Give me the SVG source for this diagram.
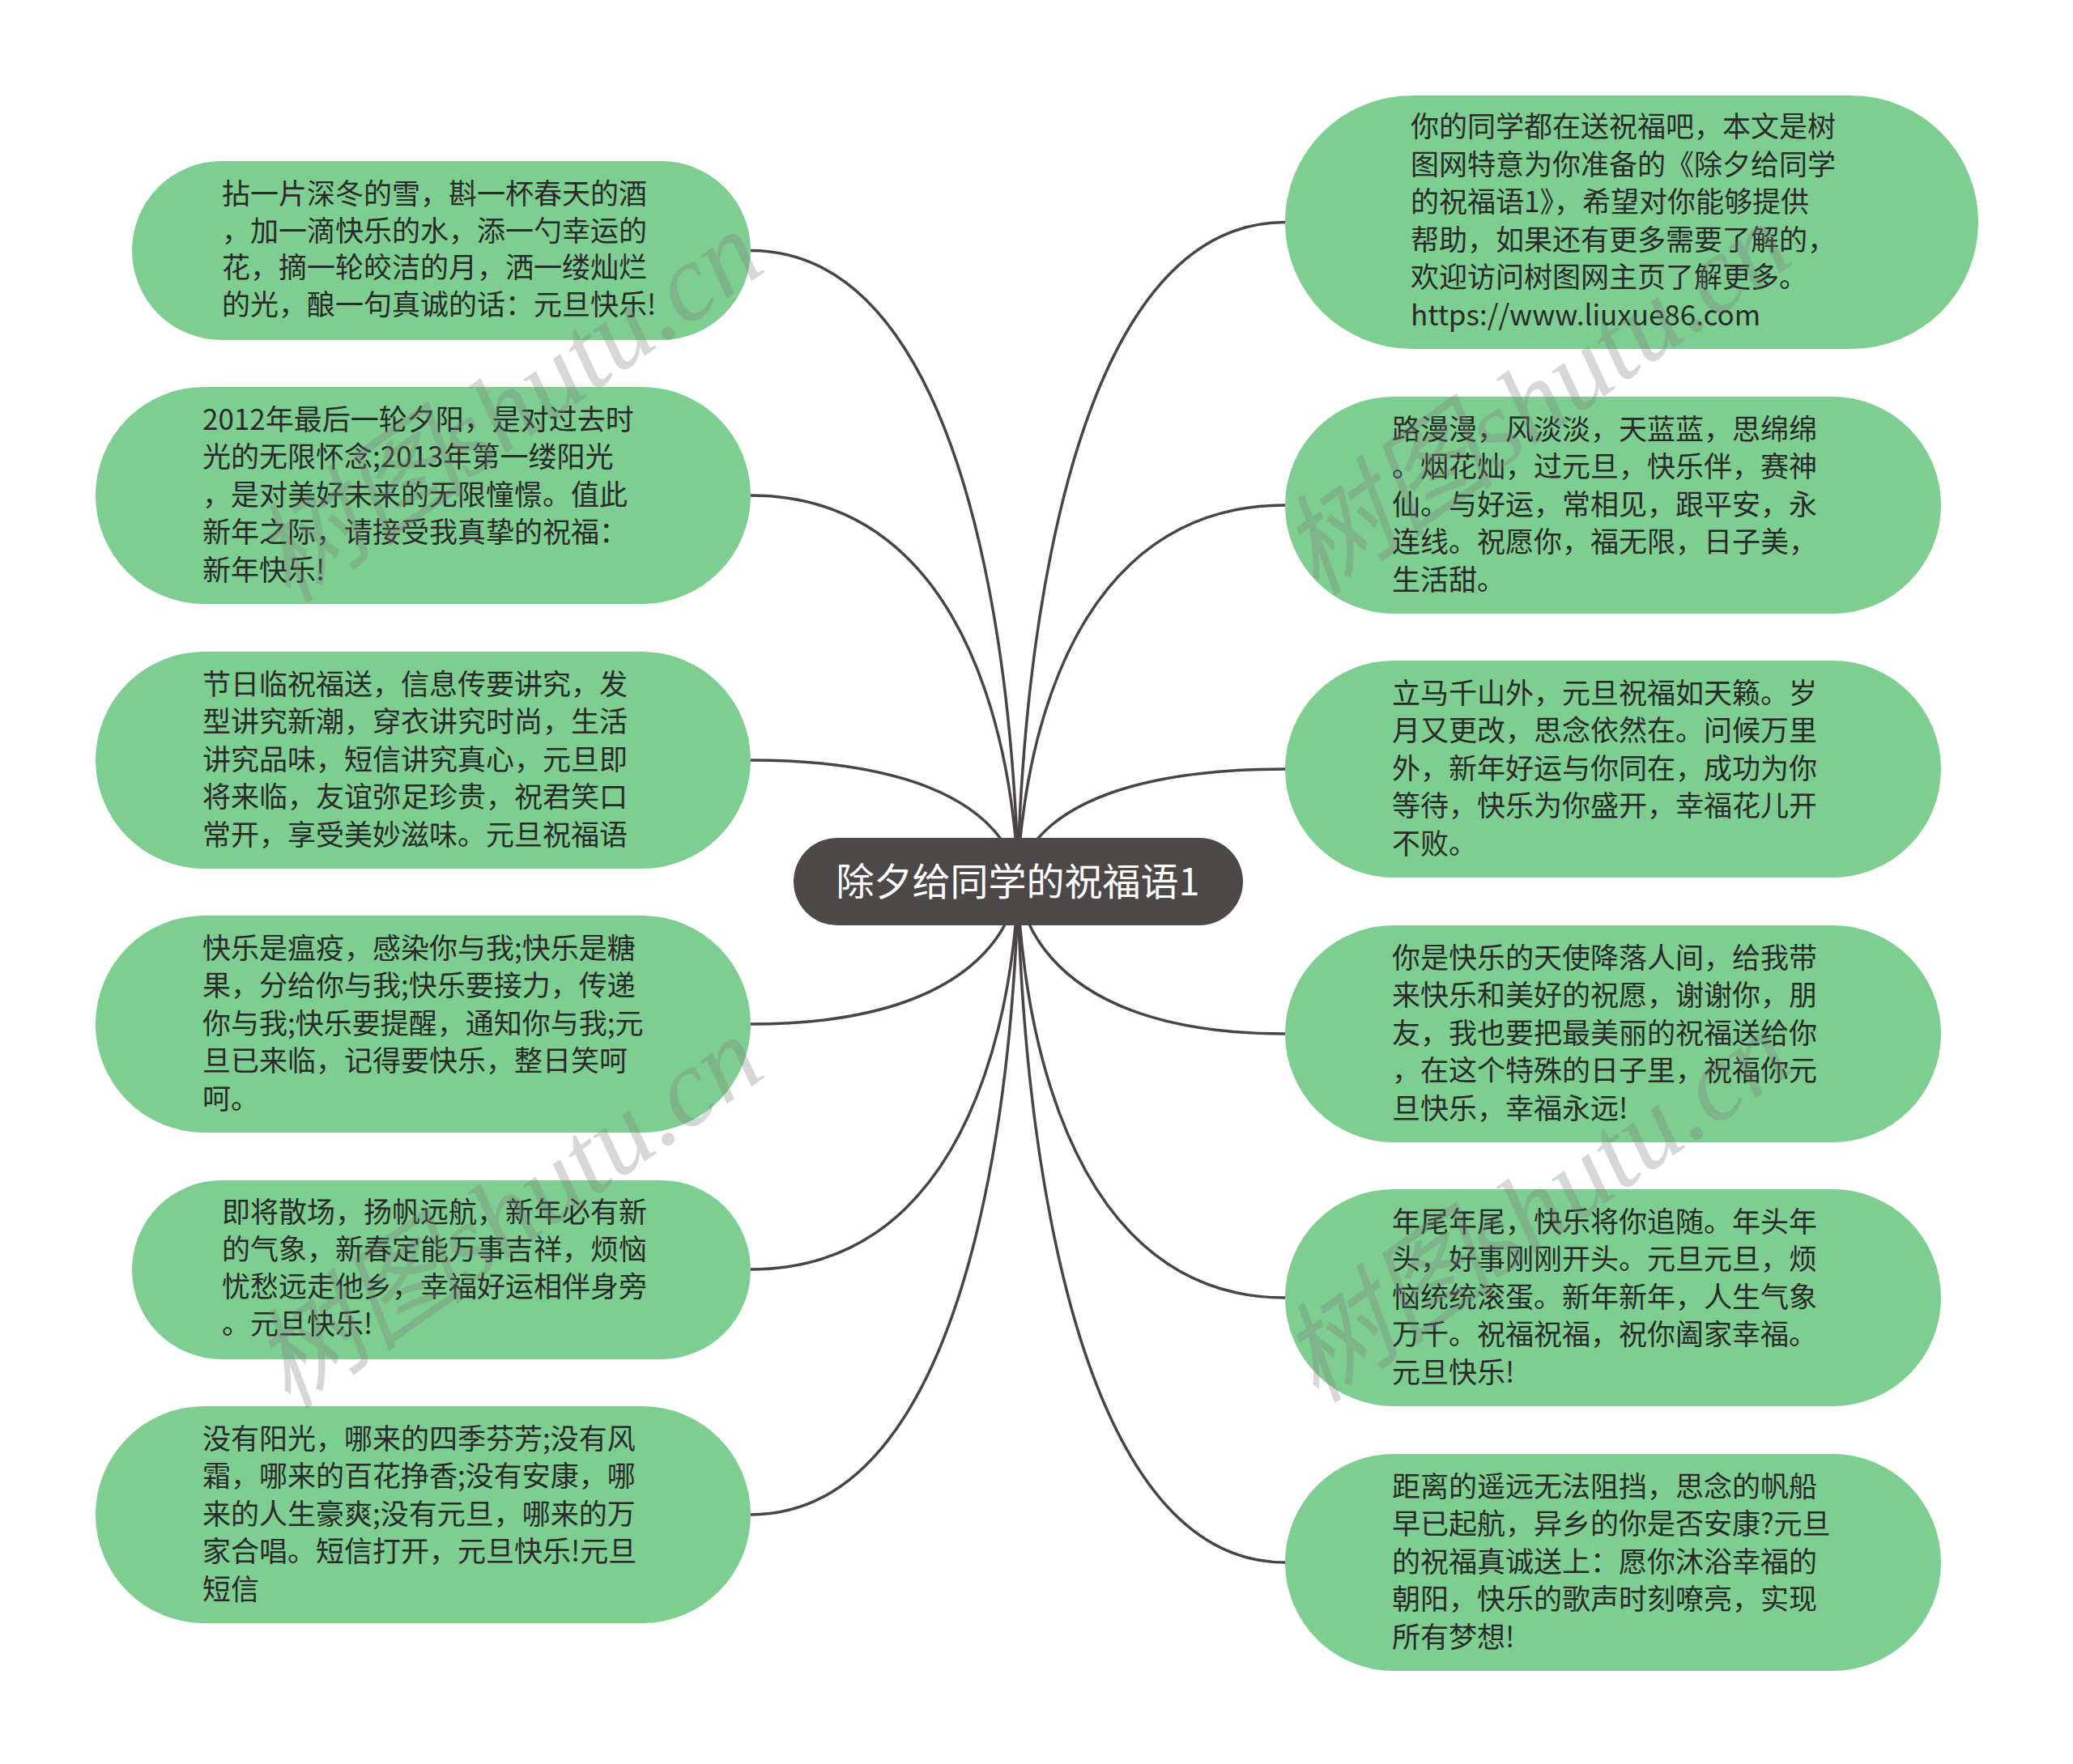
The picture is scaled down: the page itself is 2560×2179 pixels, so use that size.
<svg xmlns="http://www.w3.org/2000/svg" width="2560" height="2179" viewBox="0 0 2560 2179">
<defs>
<style>
.n{fill:#7ecd91;}
.t{font-family:"Noto Sans CJK SC","Noto Sans",sans-serif;font-size:35px;fill:#2a2a2a;}
.root{fill:#4e4949;}
.rt{font-family:"Noto Sans CJK SC","Noto Sans",sans-serif;font-size:47px;fill:#ffffff;text-anchor:middle;}
.c{fill:none;stroke:#4a4545;stroke-width:3.5;}
.wm{font-family:"Liberation Serif","Noto Sans CJK SC",serif;font-size:135px;font-style:italic;fill:#7a7a7a;fill-opacity:0.3;text-anchor:middle;}
</style>
</defs>
<rect x="0" y="0" width="2560" height="2179" fill="#ffffff"/>
<g id="connectors">
<path class="c" d="M927 309.5 C1257 309.5 1257 1089 1257 1089"/>
<path class="c" d="M927 612 C1257 612 1257 1089 1257 1089"/>
<path class="c" d="M927 939 C1257 939 1257 1089 1257 1089"/>
<path class="c" d="M927 1265 C1257 1265 1257 1089 1257 1089"/>
<path class="c" d="M927 1568 C1257 1568 1257 1089 1257 1089"/>
<path class="c" d="M927 1871 C1257 1871 1257 1089 1257 1089"/>
<path class="c" d="M1587 274.5 C1257 274.5 1257 1089 1257 1089"/>
<path class="c" d="M1587 624 C1257 624 1257 1089 1257 1089"/>
<path class="c" d="M1587 950 C1257 950 1257 1089 1257 1089"/>
<path class="c" d="M1587 1277 C1257 1277 1257 1089 1257 1089"/>
<path class="c" d="M1587 1603 C1257 1603 1257 1089 1257 1089"/>
<path class="c" d="M1587 1930 C1257 1930 1257 1089 1257 1089"/>
</g>
<g id="root">
<rect class="root" x="980" y="1035" width="555" height="108" rx="54"/>
<text class="rt" x="1257" y="1106">除夕给同学的祝福语1</text>
</g>
<g id="L1">
<rect class="n" x="163" y="199" width="764" height="221" rx="110.5"/>
<text class="t"><tspan x="274" y="252">拈一片深冬的雪，斟一杯春天的酒</tspan><tspan x="274" y="298">，加一滴快乐的水，添一勺幸运的</tspan><tspan x="274" y="343">花，摘一轮皎洁的月，洒一缕灿烂</tspan><tspan x="274" y="389">的光，酿一句真诚的话：元旦快乐!</tspan></text>
</g>
<g id="L2">
<rect class="n" x="118" y="478" width="809" height="268" rx="134"/>
<text class="t"><tspan x="250" y="531">2012年最后一轮夕阳，是对过去时</tspan><tspan x="250" y="577">光的无限怀念;2013年第一缕阳光</tspan><tspan x="250" y="624">，是对美好未来的无限憧憬。值此</tspan><tspan x="250" y="670">新年之际，请接受我真挚的祝福：</tspan><tspan x="250" y="717">新年快乐!</tspan></text>
</g>
<g id="L3">
<rect class="n" x="118" y="805" width="809" height="268" rx="134"/>
<text class="t"><tspan x="250" y="858">节日临祝福送，信息传要讲究，发</tspan><tspan x="250" y="904">型讲究新潮，穿衣讲究时尚，生活</tspan><tspan x="250" y="951">讲究品味，短信讲究真心，元旦即</tspan><tspan x="250" y="997">将来临，友谊弥足珍贵，祝君笑口</tspan><tspan x="250" y="1044">常开，享受美妙滋味。元旦祝福语</tspan></text>
</g>
<g id="L4">
<rect class="n" x="118" y="1131" width="809" height="268" rx="134"/>
<text class="t"><tspan x="250" y="1184">快乐是瘟疫，感染你与我;快乐是糖</tspan><tspan x="250" y="1230">果，分给你与我;快乐要接力，传递</tspan><tspan x="250" y="1277">你与我;快乐要提醒，通知你与我;元</tspan><tspan x="250" y="1323">旦已来临，记得要快乐，整日笑呵</tspan><tspan x="250" y="1370">呵。</tspan></text>
</g>
<g id="L5">
<rect class="n" x="163" y="1458" width="764" height="221" rx="110.5"/>
<text class="t"><tspan x="274" y="1510">即将散场，扬帆远航，新年必有新</tspan><tspan x="274" y="1556">的气象，新春定能万事吉祥，烦恼</tspan><tspan x="274" y="1602">忧愁远走他乡，幸福好运相伴身旁</tspan><tspan x="274" y="1648">。元旦快乐!</tspan></text>
</g>
<g id="L6">
<rect class="n" x="118" y="1737" width="809" height="268" rx="134"/>
<text class="t"><tspan x="250" y="1790">没有阳光，哪来的四季芬芳;没有风</tspan><tspan x="250" y="1836">霜，哪来的百花挣香;没有安康，哪</tspan><tspan x="250" y="1883">来的人生豪爽;没有元旦，哪来的万</tspan><tspan x="250" y="1929">家合唱。短信打开，元旦快乐!元旦</tspan><tspan x="250" y="1976">短信</tspan></text>
</g>
<g id="R1">
<rect class="n" x="1587" y="118" width="856" height="313" rx="156.5"/>
<text class="t"><tspan x="1742" y="169">你的同学都在送祝福吧，本文是树</tspan><tspan x="1742" y="216">图网特意为你准备的《除夕给同学</tspan><tspan x="1742" y="262">的祝福语1》，希望对你能够提供</tspan><tspan x="1742" y="309">帮助，如果还有更多需要了解的，</tspan><tspan x="1742" y="355">欢迎访问树图网主页了解更多。</tspan><tspan x="1742" y="402">https://www.liuxue86.com</tspan></text>
</g>
<g id="R2">
<rect class="n" x="1587" y="490" width="810" height="268" rx="134"/>
<text class="t"><tspan x="1719" y="543">路漫漫，风淡淡，天蓝蓝，思绵绵</tspan><tspan x="1719" y="589">。烟花灿，过元旦，快乐伴，赛神</tspan><tspan x="1719" y="636">仙。与好运，常相见，跟平安，永</tspan><tspan x="1719" y="682">连线。祝愿你，福无限，日子美，</tspan><tspan x="1719" y="729">生活甜。</tspan></text>
</g>
<g id="R3">
<rect class="n" x="1587" y="816" width="810" height="268" rx="134"/>
<text class="t"><tspan x="1719" y="869">立马千山外，元旦祝福如天籁。岁</tspan><tspan x="1719" y="915">月又更改，思念依然在。问候万里</tspan><tspan x="1719" y="962">外，新年好运与你同在，成功为你</tspan><tspan x="1719" y="1008">等待，快乐为你盛开，幸福花儿开</tspan><tspan x="1719" y="1055">不败。</tspan></text>
</g>
<g id="R4">
<rect class="n" x="1587" y="1143" width="810" height="268" rx="134"/>
<text class="t"><tspan x="1719" y="1196">你是快乐的天使降落人间，给我带</tspan><tspan x="1719" y="1242">来快乐和美好的祝愿，谢谢你，朋</tspan><tspan x="1719" y="1289">友，我也要把最美丽的祝福送给你</tspan><tspan x="1719" y="1335">，在这个特殊的日子里，祝福你元</tspan><tspan x="1719" y="1382">旦快乐，幸福永远!</tspan></text>
</g>
<g id="R5">
<rect class="n" x="1587" y="1469" width="810" height="268" rx="134"/>
<text class="t"><tspan x="1719" y="1522">年尾年尾，快乐将你追随。年头年</tspan><tspan x="1719" y="1568">头，好事刚刚开头。元旦元旦，烦</tspan><tspan x="1719" y="1615">恼统统滚蛋。新年新年，人生气象</tspan><tspan x="1719" y="1661">万千。祝福祝福，祝你阖家幸福。</tspan><tspan x="1719" y="1708">元旦快乐!</tspan></text>
</g>
<g id="R6">
<rect class="n" x="1587" y="1796" width="810" height="268" rx="134"/>
<text class="t"><tspan x="1719" y="1849">距离的遥远无法阻挡，思念的帆船</tspan><tspan x="1719" y="1895">早已起航，异乡的你是否安康?元旦</tspan><tspan x="1719" y="1942">的祝福真诚送上：愿你沐浴幸福的</tspan><tspan x="1719" y="1988">朝阳，快乐的歌声时刻嘹亮，实现</tspan><tspan x="1719" y="2035">所有梦想!</tspan></text>
</g>
<g id="watermarks">
<text class="wm" transform="translate(653 540) rotate(-35)">树图shutu.cn</text>
<text class="wm" transform="translate(1923 530) rotate(-35)">树图shutu.cn</text>
<text class="wm" transform="translate(653 1535) rotate(-35)">树图shutu.cn</text>
<text class="wm" transform="translate(1923 1528) rotate(-35)">树图shutu.cn</text>
</g>
</svg>
